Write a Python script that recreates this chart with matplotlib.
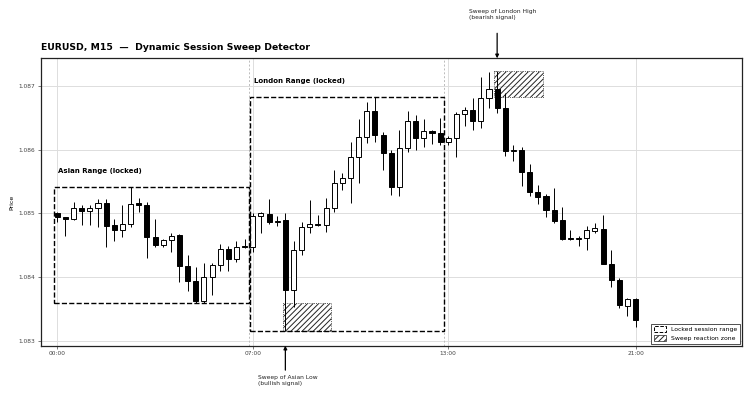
import matplotlib
matplotlib.use("Agg")
import matplotlib.pyplot as plt
from matplotlib.patches import Rectangle, Patch

# ---------------- data ----------------
opens = [1.08500, 1.08494, 1.08491, 1.08509, 1.08504, 1.08509, 1.08517, 1.08482, 1.08474, 1.08483,
         1.08517, 1.08513, 1.08463, 1.08451, 1.08458, 1.08466, 1.08417, 1.08394, 1.08363, 1.08400,
         1.08419, 1.08444, 1.08428, 1.08449, 1.08447, 1.08496, 1.08499, 1.08486, 1.08490, 1.08379,
         1.08443, 1.08478, 1.08484, 1.08482, 1.08508, 1.08548, 1.08555, 1.08589, 1.08620, 1.08661,
         1.08623, 1.08595, 1.08542, 1.08603, 1.08645, 1.08619, 1.08629, 1.08627, 1.08613, 1.08619,
         1.08657, 1.08663, 1.08645, 1.08681, 1.08695, 1.08666, 1.08598, 1.08600, 1.08565, 1.08533,
         1.08528, 1.08505, 1.08490, 1.08462, 1.08460, 1.08461, 1.08473, 1.08475, 1.08421, 1.08396,
         1.08355, 1.08366]
highs = [1.08503, 1.08495, 1.08518, 1.08513, 1.08513, 1.08523, 1.08523, 1.08491, 1.08513, 1.08542,
         1.08525, 1.08518, 1.08492, 1.08460, 1.08470, 1.08467, 1.08435, 1.08415, 1.08422, 1.08422,
         1.08452, 1.08449, 1.08457, 1.08460, 1.08500, 1.08502, 1.08523, 1.08496, 1.08500, 1.08456,
         1.08487, 1.08521, 1.08497, 1.08524, 1.08568, 1.08563, 1.08613, 1.08649, 1.08676, 1.08683,
         1.08628, 1.08599, 1.08632, 1.08661, 1.08655, 1.08648, 1.08632, 1.08650, 1.08622, 1.08659,
         1.08668, 1.08681, 1.08714, 1.08722, 1.08724, 1.08689, 1.08607, 1.08605, 1.08577, 1.08544,
         1.08530, 1.08540, 1.08510, 1.08474, 1.08465, 1.08481, 1.08485, 1.08497, 1.08443, 1.08398,
         1.08367, 1.08367]
lows = [1.08487, 1.08465, 1.08490, 1.08482, 1.08482, 1.08478, 1.08447, 1.08457, 1.08463, 1.08478,
        1.08502, 1.08430, 1.08447, 1.08447, 1.08440, 1.08392, 1.08378, 1.08359, 1.08359, 1.08372,
        1.08409, 1.08409, 1.08424, 1.08446, 1.08439, 1.08470, 1.08484, 1.08481, 1.08315, 1.08353,
        1.08435, 1.08470, 1.08481, 1.08471, 1.08502, 1.08537, 1.08516, 1.08548, 1.08611, 1.08613,
        1.08568, 1.08529, 1.08528, 1.08597, 1.08599, 1.08605, 1.08610, 1.08608, 1.08608, 1.08588,
        1.08637, 1.08631, 1.08634, 1.08666, 1.08658, 1.08590, 1.08582, 1.08543, 1.08528, 1.08515,
        1.08494, 1.08485, 1.08459, 1.08459, 1.08449, 1.08442, 1.08469, 1.08420, 1.08385, 1.08352,
        1.08339, 1.08322]
closes = [1.08494, 1.08491, 1.08509, 1.08504, 1.08508, 1.08517, 1.08481, 1.08474, 1.08484, 1.08515,
          1.08514, 1.08463, 1.08451, 1.08458, 1.08465, 1.08417, 1.08394, 1.08363, 1.08400, 1.08419,
          1.08444, 1.08428, 1.08448, 1.08447, 1.08496, 1.08500, 1.08486, 1.08488, 1.08379, 1.08443,
          1.08478, 1.08484, 1.08482, 1.08508, 1.08548, 1.08555, 1.08589, 1.08620, 1.08661, 1.08623,
          1.08595, 1.08542, 1.08603, 1.08645, 1.08619, 1.08629, 1.08627, 1.08613, 1.08619, 1.08657,
          1.08663, 1.08645, 1.08681, 1.08695, 1.08666, 1.08598, 1.08600, 1.08565, 1.08533, 1.08526,
          1.08505, 1.08488, 1.08460, 1.08460, 1.08462, 1.08474, 1.08477, 1.08421, 1.08395, 1.08356,
          1.08366, 1.08333]

tick_index = [0, 24, 48, 71]
tick_labels = ["00:00", "07:00", "13:00", "21:00"]
sessions = [("Asian Range (locked)", 0, 23), ("London Range (locked)", 24, 47)]
separators = [23.5, 47.5]
sweeps = [
    {"idx": 28, "kind": "low", "session": 0, "text": "Sweep of Asian Low\n(bullish signal)"},
    {"idx": 54, "kind": "high", "session": 1, "text": "Sweep of London High\n(bearish signal)"},
]
y_ticks = [1.083, 1.084, 1.085, 1.086, 1.087]

# ---------------- figure ----------------
plt.rcParams["hatch.linewidth"] = 0.7
fig = plt.figure(figsize=(7.5, 4), dpi=100)
ax = fig.add_axes([41 / 750, 1 - 345.7 / 400, (741.5 - 41) / 750, (345.7 - 58.3) / 400])

n = len(opens)
bw = 0.62
for i in range(n):
    o, h, l, c = opens[i], highs[i], lows[i], closes[i]
    ax.vlines(i, l, h, color="black", lw=0.7, zorder=3)
    bull = c >= o
    lo, hi = min(o, c), max(o, c)
    ax.add_patch(Rectangle((i - bw / 2, lo), bw, max(hi - lo, 0.000015),
                           facecolor="white" if bull else "black",
                           edgecolor="black", lw=0.7, zorder=4))

# session separators
for s in separators:
    ax.axvline(s, color="#bbbbbb", lw=0.7, ls=(0, (2, 2)), zorder=1)

# session boxes
sess_hl = []
for name, a, b in sessions:
    sh = max(highs[a:b + 1])
    sl = min(lows[a:b + 1])
    sess_hl.append((sh, sl))
    ax.add_patch(Rectangle((a - 0.4, sl), (b + 0.5) - (a - 0.4), sh - sl,
                           fill=False, edgecolor="black", lw=1.0, ls="--", zorder=5))
    ax.text(a + 0.1, sh + 0.0002, name, fontsize=5, fontweight="bold",
            ha="left", va="bottom", zorder=6)

# sweep zones + annotations
xt = ax.get_xaxis_transform()
for sw in sweeps:
    i = sw["idx"]
    sh, sl = sess_hl[sw["session"]]
    if sw["kind"] == "low":
        y0, y1 = lows[i], sl
    else:
        y0, y1 = sh, highs[i]
    ax.add_patch(Rectangle((i - 0.35, y0), 6, y1 - y0, facecolor="none",
                           edgecolor="#222222", hatch="//////", lw=0.6, ls=":", zorder=2))
    if sw["kind"] == "low":
        ax.annotate("", xy=(i, 0), xycoords=xt, xytext=(i, -0.085), textcoords=xt,
                    arrowprops=dict(arrowstyle="-|>", color="black", lw=0.9,
                                    mutation_scale=5, shrinkA=0, shrinkB=0),
                    annotation_clip=False)
        ax.text(i - 3.4, -0.102, sw["text"], transform=xt, fontsize=4.3,
                ha="left", va="top", color="#222222", clip_on=False)
    else:
        ax.annotate("", xy=(i, 1.0), xycoords=xt, xytext=(i, 1.087), textcoords=xt,
                    arrowprops=dict(arrowstyle="-|>", color="black", lw=0.9,
                                    mutation_scale=5, shrinkA=0, shrinkB=0),
                    annotation_clip=False)
        ax.text(i - 3.4, 1.133, sw["text"], transform=xt, fontsize=4.3,
                ha="left", va="bottom", color="#222222", clip_on=False)

# axes styling
ax.set_xlim(-2, 84)
ax.set_ylim(min(lows) - 0.00023, max(highs) + 0.0002)
ax.set_xticks(tick_index)
ax.set_xticklabels(tick_labels)
ax.set_yticks(y_ticks)
ax.set_yticklabels([f"{v:.3f}" for v in y_ticks])
ax.tick_params(labelsize=4.2, length=2, width=0.5, colors="#444444", pad=2)
ax.grid(True, color="#dddddd", lw=0.7, zorder=0)
ax.set_axisbelow(True)
for sp in ax.spines.values():
    sp.set_color("#222222")
    sp.set_linewidth(0.9)
ax.set_ylabel("Price", fontsize=4.5, labelpad=3)
ax.set_title("EURUSD, M15  \u2014  Dynamic Session Sweep Detector", loc="left",
             fontsize=6.7, fontweight="bold", pad=6)

handles = [Patch(facecolor="white", edgecolor="black", ls="--", lw=0.7),
           Patch(facecolor="white", edgecolor="#222222", hatch="//////", lw=0.5)]
leg = ax.legend(handles, ["Locked session range", "Sweep reaction zone"], loc="lower right",
                fontsize=4.4, fancybox=False, edgecolor="#333333", framealpha=1,
                borderaxespad=0.3, handlelength=2.0, handleheight=0.9, borderpad=0.45,
                labelspacing=0.55)
leg.get_frame().set_linewidth(0.6)

fig.savefig("out.png", dpi=100)
